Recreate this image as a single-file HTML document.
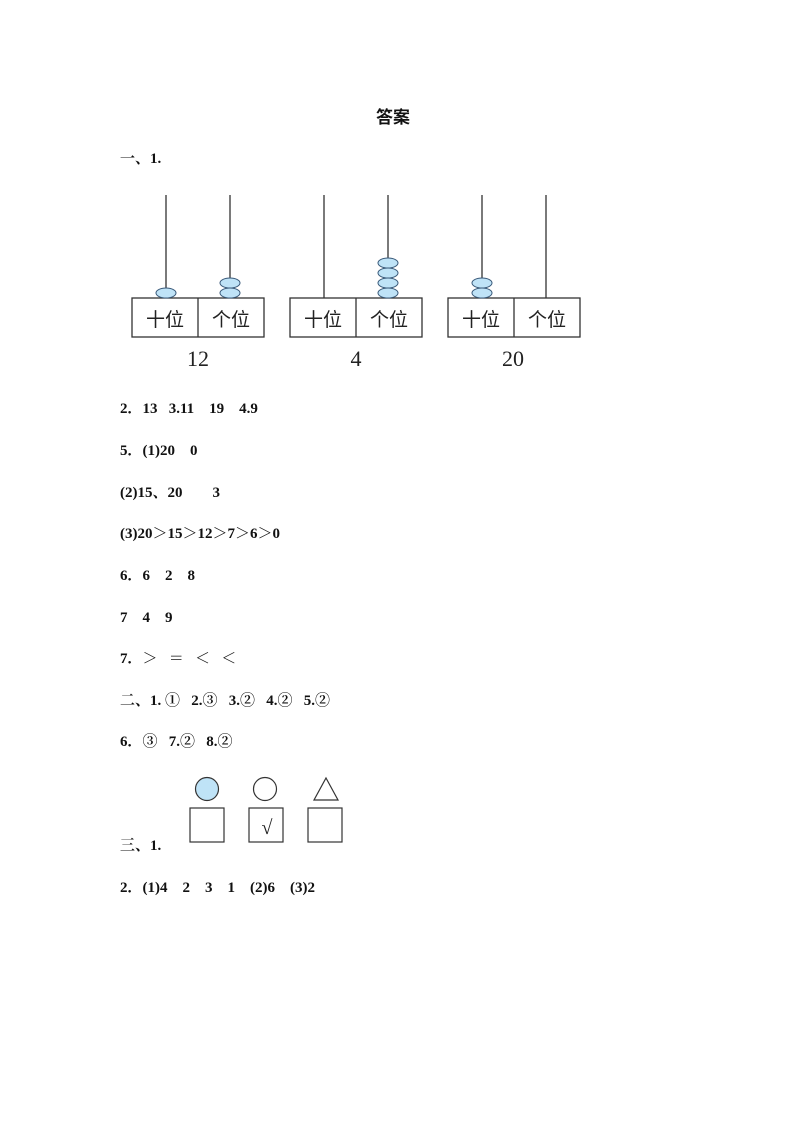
<!DOCTYPE html>
<html><head><meta charset="utf-8"><style>
body{margin:0;width:794px;height:1123px;background:#fff;position:relative;font-family:"Liberation Serif","Noto Serif CJK SC",serif;color:#111}
.t{position:absolute;left:120px;font-size:15px;line-height:18px;white-space:pre;font-weight:bold}
</style></head><body>
<div class="t" style="left:376px;top:109px;font-family:'Liberation Sans','Noto Sans CJK SC',sans-serif;font-size:17px">答案</div>
<div class="t" style="top:150px">一、1.</div>
<div class="t" style="top:400px">2．13   3.11    19    4.9</div>
<div class="t" style="top:442px">5．(1)20    0</div>
<div class="t" style="top:484px">(2)15、20        3</div>
<div class="t" style="top:525px">(3)20＞15＞12＞7＞6＞0</div>
<div class="t" style="top:567px">6．6    2    8</div>
<div class="t" style="top:609px">7    4    9</div>
<div class="t" style="top:650px">7．＞   ＝   ＜   ＜</div>
<div class="t" style="top:692px">二、1. ①   2.③   3.②   4.②   5.②</div>
<div class="t" style="top:733px">6．③   7.②   8.②</div>
<div class="t" style="top:837px">三、1.</div>
<div class="t" style="top:879px">2．(1)4    2    3    1    (2)6    (3)2</div>
<svg width="794" height="1123" style="position:absolute;left:0;top:0" xmlns="http://www.w3.org/2000/svg">
<g stroke="#333" stroke-width="1.3" fill="none">
<rect x="132" y="298" width="132" height="39"/><line x1="198" y1="298" x2="198" y2="337"/>
<rect x="290" y="298" width="132" height="39"/><line x1="356" y1="298" x2="356" y2="337"/>
<rect x="448" y="298" width="132" height="39"/><line x1="514" y1="298" x2="514" y2="337"/>
<line x1="166" y1="195" x2="166" y2="298"/><line x1="230" y1="195" x2="230" y2="298"/>
<line x1="324" y1="195" x2="324" y2="298"/><line x1="388" y1="195" x2="388" y2="298"/>
<line x1="482" y1="195" x2="482" y2="298"/><line x1="546" y1="195" x2="546" y2="298"/>
</g>
<g fill="#bfe3f7" stroke="#3a5a7a" stroke-width="1">
<ellipse cx="166" cy="293" rx="10" ry="5"/>
<ellipse cx="230" cy="293" rx="10" ry="5"/><ellipse cx="230" cy="283" rx="10" ry="5"/>
<ellipse cx="388" cy="293" rx="10" ry="5"/><ellipse cx="388" cy="283" rx="10" ry="5"/><ellipse cx="388" cy="273" rx="10" ry="5"/><ellipse cx="388" cy="263" rx="10" ry="5"/>
<ellipse cx="482" cy="293" rx="10" ry="5"/><ellipse cx="482" cy="283" rx="10" ry="5"/>
</g>
<g font-family="Liberation Sans,Noto Sans CJK SC,sans-serif" font-size="19" fill="#222" text-anchor="middle">
<text x="165" y="326">十位</text><text x="231" y="326">个位</text>
<text x="323" y="326">十位</text><text x="389" y="326">个位</text>
<text x="481" y="326">十位</text><text x="547" y="326">个位</text>
</g>
<g font-family="Liberation Serif,serif" font-size="22" fill="#222" text-anchor="middle">
<text x="198" y="366">12</text><text x="356" y="366">4</text><text x="513" y="366">20</text>
</g>
<g stroke="#333" stroke-width="1.2" fill="none">
<circle cx="207" cy="789" r="11.5" fill="#bfe3f7"/>
<circle cx="265" cy="789" r="11.5"/>
<polygon points="326,778 338,800 314,800"/>
<rect x="190" y="808" width="34" height="34"/>
<rect x="249" y="808" width="34" height="34"/>
<rect x="308" y="808" width="34" height="34"/>
</g>
<text x="267" y="834" text-anchor="middle" font-family="Liberation Serif,serif" font-size="20" fill="#222">√</text>
</svg>
</body></html>
